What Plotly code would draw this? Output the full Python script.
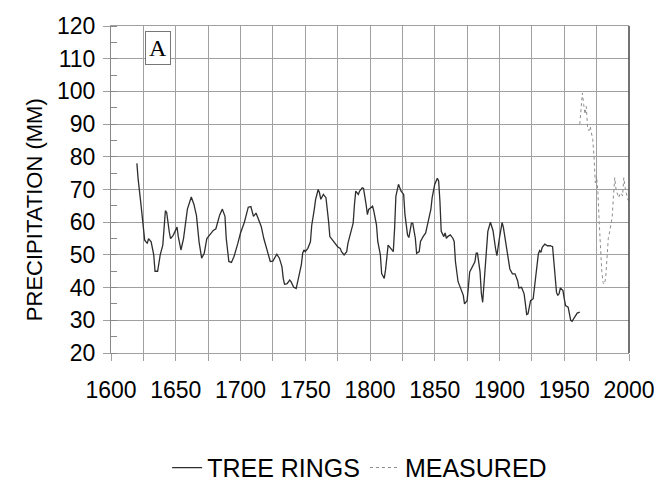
import plotly.graph_objects as go

tree_years = [1620, 1621, 1623, 1624, 1626, 1628, 1629, 1631, 1633, 1634, 1636, 1638, 1640, 1642, 1643,
              1645, 1646, 1648, 1651, 1652, 1654, 1656, 1659, 1662, 1664, 1666, 1668, 1670, 1672, 1674,
              1676, 1679, 1681, 1684, 1686, 1688, 1689, 1691, 1693, 1695, 1698, 1700, 1703, 1706, 1708,
              1710, 1712, 1714, 1716, 1718, 1720, 1722, 1723, 1725, 1727, 1728, 1730, 1732, 1733, 1734,
              1736, 1738, 1739, 1741, 1743, 1744, 1745, 1747, 1748, 1749, 1750, 1752, 1754, 1755, 1757,
              1758, 1760, 1761, 1762, 1764, 1766, 1767, 1768, 1769, 1771, 1773, 1775, 1777, 1778, 1780,
              1782, 1783, 1785, 1787, 1788, 1789, 1791, 1792, 1794, 1795, 1797, 1798, 1799, 1801, 1802,
              1803, 1805, 1806, 1808, 1809, 1811, 1812, 1814, 1816, 1818, 1819, 1820, 1822, 1824, 1826,
              1827, 1829, 1830, 1832, 1833, 1835, 1836, 1838, 1839, 1841, 1843, 1845, 1847, 1848, 1850,
              1852, 1853, 1854, 1855, 1857, 1858, 1859, 1860, 1862, 1864, 1865, 1866, 1868, 1869, 1870,
              1872, 1873, 1875, 1877, 1879, 1881, 1882, 1883, 1885, 1886, 1887, 1888, 1890, 1891, 1893,
              1895, 1897, 1898, 1900, 1902, 1903, 1905, 1906, 1908, 1910, 1912, 1914, 1915, 1917, 1919,
              1920, 1921, 1922, 1924, 1926, 1927, 1928, 1930, 1931, 1932, 1933, 1935, 1937, 1939, 1941,
              1942, 1943, 1944, 1945, 1946, 1947, 1949, 1950, 1951, 1953, 1954, 1955, 1956, 1958, 1960,
              1962]
tree_vals = [78, 73, 66, 62, 54.5, 53.5, 55, 54, 50, 45, 45, 50, 53, 63.5, 63,
             57, 55, 56, 58.5, 55.5, 51.5, 55, 64, 67.7, 65.5, 62, 54, 49, 50.5, 55,
             56, 57.5, 58, 62.3, 64, 61.8, 55, 48, 47.7, 49.5, 53.6, 56.7, 60, 64.6, 64.8,
             61.8, 62.8, 60.8, 58.7, 55, 52, 49.5, 48, 48.1, 49.5, 50.2, 49, 46.4, 42.8, 41,
             41.2, 42.3, 41.8, 40.2, 39.7, 41.8, 43.8, 47, 50.5, 51.5, 51, 52, 54, 59, 64,
             67, 70, 69, 67, 68.5, 67.5, 64.4, 60.3, 55.6, 54.6, 53.3, 52.5, 52, 51, 50,
             51, 53.6, 56.7, 59.7, 65.4, 69.5, 68.5, 69.5, 70.5, 70.3, 65.4, 62.3, 63.9, 64.6, 64.9,
             63.3, 59.2, 54.1, 50, 44.3, 42.8, 45.4, 53, 52, 51, 58.2, 68, 71.6, 69.5, 68.5,
             62.3, 56.1, 55.3, 59.7, 59.7, 55.1, 50.5, 51, 54.1, 55.6, 56.7, 60.3, 63.9, 67.5, 71.6,
             73.4, 72.6, 66.4, 57.2, 55.6, 56.7, 55.1, 55.6, 56.1, 55.1, 54.1, 47.9, 41.8, 40.8, 39.7,
             37.7, 35, 36, 44.8, 46.4, 47.9, 50.5, 50.5, 44.8, 38.2, 35.5, 41, 50.5, 57.2, 60,
             57.4, 51.8, 49.8, 55.3, 59.9, 58.4, 53.3, 50.3, 45.7, 44.2, 44.2, 42.1, 39.9, 40.1, 38.1,
             35, 31.8, 32, 36, 36.6, 40.1, 45.2, 50.3, 51.3, 50.8, 52.3, 53.3, 52.8, 52.8, 52.5,
             48.2, 43.2, 38.6, 37.6, 38.1, 39.9, 39.1, 36.6, 34.5, 34, 32, 30, 29.7, 30.8, 32.2,
             32.5]

meas_years = [1962, 1963, 1964, 1965, 1966, 1967, 1968, 1969, 1970, 1971, 1972, 1973, 1974, 1975,
              1976, 1977, 1978, 1979, 1980, 1981, 1982, 1983, 1984, 1985, 1986, 1987, 1988, 1989,
              1990, 1991, 1992, 1993, 1994, 1995, 1996, 1997, 1998, 1999, 2000]
meas_vals = [90, 94, 99.5, 96, 93, 95.4, 89, 88, 89.3, 87.3, 85.3, 80, 72, 74,
             69, 60, 51, 45, 41.5, 41, 43, 48, 55, 57, 59.4, 61.4, 68, 73.6,
             70, 68.5, 67.5, 68.5, 69, 68, 73.6, 70.6, 69, 67, 66.5]

series_names = ["TREE RINGS", "MEASURED"]
y_title = "PRECIPITATION (MM)"
panel_label = "A"

FONT = "Liberation Sans, Arial, sans-serif"
GRID = "#a0a0a0"

fig = go.Figure()
fig.add_trace(go.Scatter(x=tree_years, y=tree_vals, mode="lines", name=series_names[0],
                         line=dict(color="#2e2e2e", width=1.3)))
fig.add_trace(go.Scatter(x=meas_years, y=meas_vals, mode="lines", name=series_names[1],
                         line=dict(color="#8c8c8c", width=1, dash="dot")))

fig.update_layout(
    width=662, height=485,
    margin=dict(l=103, r=41, t=18, b=140, autoexpand=False),
    paper_bgcolor="white", plot_bgcolor="white",
    font=dict(family=FONT, size=23, color="black"),
    showlegend=True,
    legend=dict(orientation="h", x=0.48, xanchor="center", y=-0.351, yanchor="middle",
                font=dict(size=25), itemwidth=30, bgcolor="rgba(0,0,0,0)"),
    xaxis=dict(range=[1600, 2000], tickmode="linear", tick0=1600, dtick=50,
               ticks="outside", ticklen=7, tickcolor=GRID, showgrid=True, gridcolor=GRID,
               gridwidth=1, showline=True, linecolor=GRID, linewidth=1, mirror=True,
               zeroline=False, tickfont=dict(size=23), ticklabelstandoff=9,
               minor=dict(dtick=25, tick0=1600, showgrid=True, gridcolor=GRID, ticks="outside",
                          ticklen=7, tickcolor=GRID)),
    yaxis=dict(range=[20, 120], tickmode="linear", tick0=20, dtick=10,
               ticks="outside", ticklen=7, tickcolor=GRID, showgrid=True, gridcolor=GRID,
               gridwidth=1, showline=True, linecolor="#888888", linewidth=1,
               zeroline=False, tickfont=dict(size=23), ticklabelstandoff=3,
               minor=dict(dtick=5, tick0=20, showgrid=False, ticks="inside", ticklen=6,
                          tickcolor="#888888")),
    shapes=[dict(type="line", xref="paper", yref="paper", x0=1, x1=1, y0=0, y1=1,
                 line=dict(color="#444444", width=1.5))],
    annotations=[
        dict(text=y_title, xref="paper", yref="paper", x=-0.1486, y=0.437,
             xanchor="center", yanchor="middle", textangle=-90, showarrow=False,
             font=dict(family=FONT, size=22, color="black")),
        dict(text=panel_label, xref="paper", yref="paper", x=0.0907, y=0.933,
             xanchor="center", yanchor="middle", showarrow=False,
             font=dict(family="Liberation Serif, Times New Roman, serif", size=24, color="black"),
             bordercolor="#777777", borderwidth=1, borderpad=3, bgcolor="white"),
    ],
)

fig.write_html("out.html")
